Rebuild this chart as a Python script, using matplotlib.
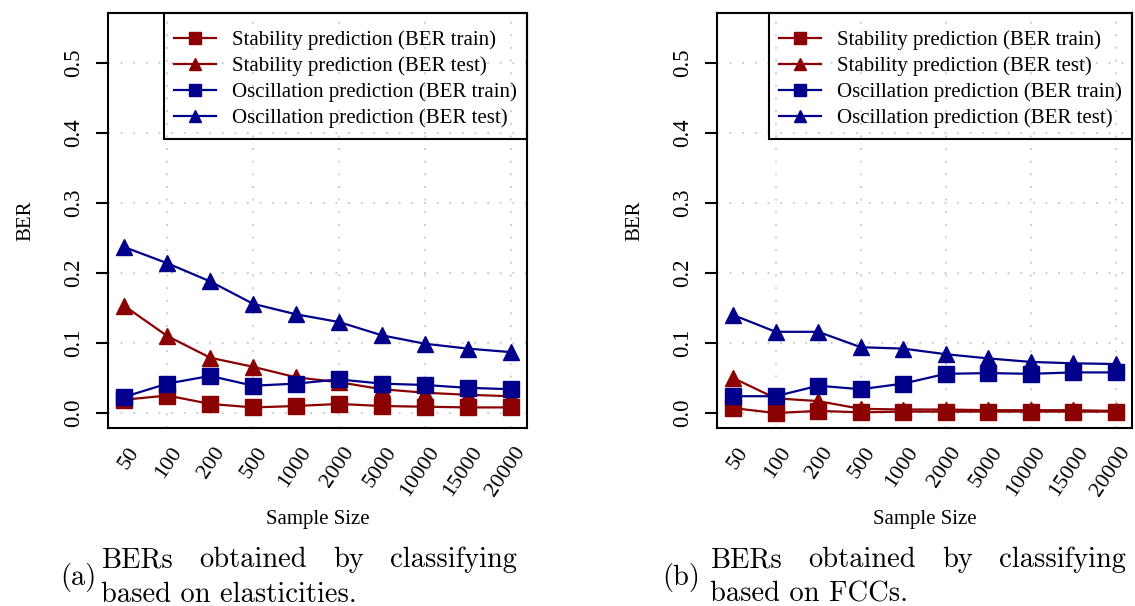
import matplotlib
matplotlib.use('Agg')
import matplotlib.pyplot as plt
from matplotlib.patches import Rectangle
from matplotlib.transforms import ScaledTranslation

sample_sizes = ["50", "100", "200", "500", "1000", "2000", "5000", "10000", "15000", "20000"]

# panel (a): classification on elasticities
elast_stab_train = [0.019, 0.025, 0.013, 0.008, 0.010, 0.013, 0.010, 0.009, 0.008, 0.008]
elast_stab_test = [0.153, 0.110, 0.079, 0.066, 0.051, 0.044, 0.034, 0.029, 0.026, 0.024]
elast_osc_train = [0.023, 0.042, 0.053, 0.039, 0.042, 0.048, 0.042, 0.040, 0.036, 0.034]
elast_osc_test = [0.237, 0.214, 0.188, 0.156, 0.141, 0.130, 0.111, 0.099, 0.092, 0.087]

# panel (b): classification on FCCs
fcc_stab_train = [0.007, 0.000, 0.003, 0.001, 0.002, 0.002, 0.002, 0.002, 0.002, 0.002]
fcc_stab_test = [0.050, 0.021, 0.017, 0.006, 0.005, 0.005, 0.004, 0.004, 0.004, 0.003]
fcc_osc_train = [0.024, 0.024, 0.039, 0.034, 0.042, 0.056, 0.057, 0.056, 0.058, 0.058]
fcc_osc_test = [0.140, 0.116, 0.116, 0.094, 0.092, 0.084, 0.078, 0.073, 0.071, 0.070]

yticks = [0.0, 0.1, 0.2, 0.3, 0.4, 0.5]
grid_x = [2, 4, 6, 8, 10]  # vertical grid lines only at every other sample size
legend_labels = ["Stability prediction (BER train)", "Stability prediction (BER test)",
                 "Oscillation prediction (BER train)", "Oscillation prediction (BER test)"]
captions = [("(a)", "BERs obtained by classifying", "based on elasticities."),
            ("(b)", "BERs obtained by classifying", "based on FCCs.")]

RED = "#8b0000"
BLUE = "#00008b"
GRID = "#c8c8c8"
SERIF = "Liberation Serif"
CAPFONT = "cmr10"

fig = plt.figure(figsize=(11.35, 6.06), dpi=100)
W, H = 1135, 606


def px_axes(x0, x1, y0, y1):
    return fig.add_axes([x0 / W, 1 - y1 / H, (x1 - x0) / W, (y1 - y0) / H])


def draw_panel(ax, stab_train, stab_test, osc_train, osc_test):
    x = list(range(1, len(sample_sizes) + 1))
    dotted = dict(color=GRID, linestyle=(0, (1, 6)), linewidth=1.3, zorder=0)
    for v in yticks:
        ax.axhline(v, **dotted)
    for g in grid_x:
        ax.axvline(g, **dotted)

    kw = dict(linewidth=1.6, markersize=11)
    ax.plot(x, stab_train, color=RED, marker="s", label=legend_labels[0], **kw)
    ax.plot(x, stab_test, color=RED, marker="^", label=legend_labels[1], **kw)
    ax.plot(x, osc_train, color=BLUE, marker="s", label=legend_labels[2], **kw)
    ax.plot(x, osc_test, color=BLUE, marker="^", label=legend_labels[3], **kw)

    ax.set_xlim(1 - 0.38, len(x) + 0.38)
    ax.set_ylim(-0.0214, 0.5714)
    ax.set_yticks(yticks)
    ax.set_yticklabels([f"{v:.1f}" for v in yticks], rotation=90, va="center",
                       fontfamily=SERIF, fontsize=16.5)
    ax.tick_params(axis="y", length=9, width=1.5, pad=8)
    ax.set_xticks(x)
    ax.set_xticklabels(sample_sizes, rotation=56, ha="right", va="center",
                       rotation_mode="anchor", fontfamily=SERIF, fontsize=16)
    ax.tick_params(axis="x", length=0, pad=15)
    shift = ScaledTranslation(11 / 100, 0, fig.dpi_scale_trans)
    for lab in ax.get_xticklabels():
        lab.set_transform(lab.get_transform() + shift)
    for sp in ax.spines.values():
        sp.set_linewidth(1.5)

    ax.set_ylabel("BER", fontfamily=SERIF, fontsize=15, labelpad=20)
    ax.set_xlabel("Sample Size", fontfamily=SERIF, fontsize=15, labelpad=7)

    # legend entries sit a little lower than the frame top, so the frame is drawn by hand
    leg = ax.legend(loc="upper right", bbox_to_anchor=(1, 1 - 7 / 415), borderaxespad=0,
                    frameon=False, prop={"family": SERIF, "size": 15},
                    handlelength=2.0, handletextpad=0.75, labelspacing=0.3,
                    borderpad=0.5, markerscale=0.75)
    renderer = fig.canvas.get_renderer()
    bb = leg.get_window_extent(renderer).transformed(ax.transAxes.inverted())
    ax.add_patch(Rectangle((bb.x0, bb.y0), 1 - bb.x0, 1 - bb.y0, transform=ax.transAxes,
                           fill=False, edgecolor="black", linewidth=1.5,
                           clip_on=False, zorder=5))


def justify_line(words, x0, x1, y, fontsize):
    texts = [fig.text(0, 1 - y / H, w, fontfamily=CAPFONT, fontsize=fontsize,
                      va="baseline", ha="left") for w in words]
    renderer = fig.canvas.get_renderer()
    widths = [t.get_window_extent(renderer).width for t in texts]
    gap = (x1 - x0 - sum(widths)) / (len(words) - 1)
    pos = x0
    for t, w in zip(texts, widths):
        t.set_x(pos / W)
        pos += w + gap


panels = [
    (108, 527, elast_stab_train, elast_stab_test, elast_osc_train, elast_osc_test),
    (717, 1132, fcc_stab_train, fcc_stab_test, fcc_osc_train, fcc_osc_test),
]
cap_x = [(60, 101, 517), (662, 710, 1126)]

for (x0, x1, a, b, c, d), (tag, line1, line2), (tx, lx0, lx1) in zip(panels, captions, cap_x):
    ax = px_axes(x0, x1, 13, 428)
    draw_panel(ax, a, b, c, d)
    fig.text(tx / W, 1 - 578 / H, tag, fontfamily=CAPFONT, fontsize=20.5,
             va="center", ha="left")
    justify_line(line1.split(), lx0, lx1, 567, 20.5)
    fig.text(lx0 / W, 1 - 602 / H, line2, fontfamily=CAPFONT, fontsize=20.5,
             va="baseline", ha="left")

fig.savefig("out.png", dpi=100)
